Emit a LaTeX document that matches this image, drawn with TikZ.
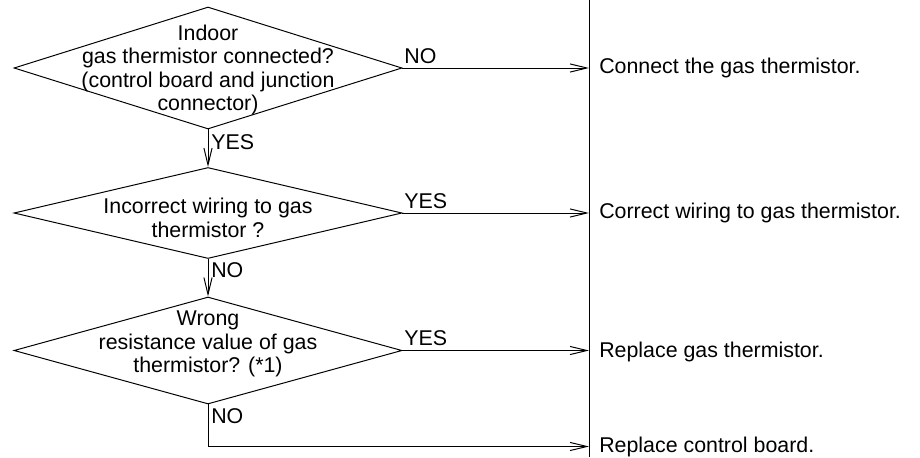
\documentclass[tikz,border=0pt]{standalone}
\usepackage{fontspec}
\setmainfont{Liberation Sans}
\usepackage{tikz}
\usetikzlibrary{shapes.geometric,arrows.meta,positioning,calc}

\begin{document}
\begin{tikzpicture}[
    decision/.style={diamond, draw, line width=0.7pt, inner sep=0pt},
    qtext/.style={align=center, inner sep=0pt, font=\fontsize{15.2}{16.6}\selectfont},
    action/.style={anchor=west, inner sep=0pt, font=\fontsize{15.2}{16.6}\selectfont},
    answer/.style={inner sep=0pt, font=\fontsize{15.2}{16.6}\selectfont},
    arrow/.style={-{Straight Barb[length=12pt, width=5.8pt]}, line width=0.7pt},
    line/.style={line width=0.7pt}
]
\useasboundingbox (0,0) rectangle (23,-11.425);

% ── Decisions ──
\node[decision, minimum width=9.7cm, minimum height=3.05cm] (conn) at (5.2,-1.7) {};
\node[qtext] (connq) at (5.2,-1.75) {Indoor\\gas thermistor connected?\\(control board and junction\\connector)};

\node[decision, minimum width=9.7cm, minimum height=2.275cm] (wiring) at (5.2,-5.325) {};
\node[qtext] (wiringq) at (5.2,-5.45) {Incorrect wiring to gas\\thermistor ?};

\node[decision, minimum width=9.7cm, minimum height=2.675cm] (resist) at (5.2,-8.7625) {};
\node[qtext] (resistq) at (5.2,-8.6) {Wrong\\resistance value of gas\\thermistor? (*1)};

% ── Right side bar and actions ──
\coordinate (bartop) at (14.725,0);
\coordinate (barbot) at (14.725,-11.425);
\draw[line] (bartop) -- (barbot);

\node[action] (fixconn) at (14.975,-1.7) {Connect the gas thermistor.};
\node[action] (fixwiring) at (14.975,-5.325) {Correct wiring to gas thermistor.};
\node[action] (fixtherm) at (14.975,-8.8) {Replace gas thermistor.};
\node[action] (fixboard) at (14.975,-11.175) {Replace control board.};

% ── Connectors ──
\draw[arrow] (conn.east) -- (conn.east -| bartop)
  node[pos=0, anchor=south west, answer, yshift=3pt, xshift=1pt] {NO};
\draw[arrow] (conn.south) -- (wiring.north)
  node[pos=0.35, right=2pt, answer] {YES};

\draw[arrow] (wiring.east) -- (wiring.east -| bartop)
  node[pos=0, anchor=south west, answer, yshift=3pt, xshift=1pt] {YES};
\draw[arrow] (wiring.south) -- (resist.north)
  node[pos=0.3, right=2pt, answer] {NO};

\draw[arrow] (resist.east) -- (resist.east -| bartop)
  node[pos=0, anchor=south west, answer, yshift=3pt, xshift=1pt] {YES};
\draw[arrow] (resist.south) -- ++(0,-1.05)
  node[pos=0.27, right=2pt, answer] {NO}
  coordinate (turn) -- (turn -| bartop);

\end{tikzpicture}
\end{document}
